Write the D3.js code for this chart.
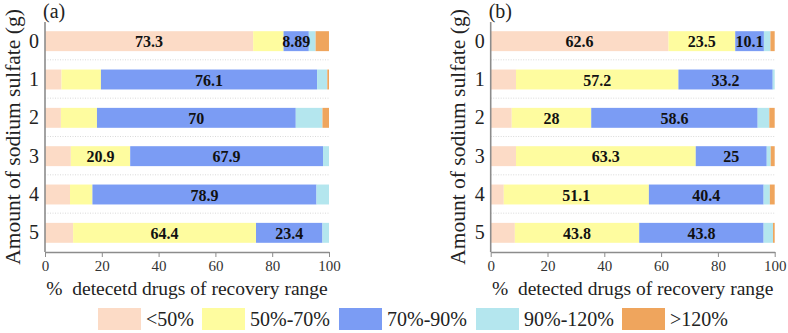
<!DOCTYPE html>
<head>
    <meta charset="utf-8">
    <script src="https://d3js.org/d3.v7.min.js"></script>
    <style>
        body { margin: 0; background: #fff; }
    </style>
</head>

<body>
    <div id="chart"></div>
</body>

<script>
    // categories
    const amounts = ["0", "1", "2", "3", "4", "5"];
    const ranges = ["<50%", "50%-70%", "70%-90%", "90%-120%", ">120%"];
    const colors = ["#fcdbc6", "#fefc9f", "#7b9cf4", "#b4e6ee", "#efa55d"];
    const xTicks = [0, 20, 40, 60, 80, 100];

    // panel (a) values, one array per recovery range
    const aLow    = [73.3, 5.8, 5.6, 9.1, 8.8, 9.9];
    const aMid    = [10.7, 13.9, 12.7, 20.9, 7.9, 64.4];
    const aGood   = [8.89, 76.1, 70, 67.9, 78.9, 23.4];
    const aHigh   = [2.4, 3.6, 9.4, 2.1, 4.4, 2.3];
    const aOver   = [4.7, 0.6, 2.3, 0, 0, 0];

    // panel (b) values
    const bLow    = [62.6, 8.9, 7.4, 8.9, 4.6, 8.5];
    const bMid    = [23.5, 57.2, 28, 63.3, 51.1, 43.8];
    const bGood   = [10.1, 33.2, 58.6, 25, 40.4, 43.8];
    const bHigh   = [2.3, 0.7, 4.1, 1.4, 2.2, 3.3];
    const bOver   = [1.5, 0, 1.9, 1.4, 1.7, 0.6];

    // which segments carry a value label: [rowIndex, rangeIndex]
    const aLabelled = [[0,0],[0,2],[1,2],[2,2],[3,1],[3,2],[4,2],[5,1],[5,2]];
    const bLabelled = [[0,0],[0,1],[0,2],[1,1],[1,2],[2,1],[2,2],[3,1],[3,2],[4,1],[4,2],[5,1],[5,2]];

    const W = 788, H = 333;
    const font = "'Liberation Serif', 'Times New Roman', 'DejaVu Serif', serif";

    const svg = d3.select("#chart").append("svg")
        .attr("width", W).attr("height", H)
        .style("font-family", font);

    function panel(opts) {
        const table = amounts.map((a, i) => {
            const row = {amount: a};
            ranges.forEach((r, j) => row[r] = opts.series[j][i]);
            return row;
        });
        const stacked = d3.stack().keys(ranges)(table);

        const x = d3.scaleLinear().domain([0, 100]).range([opts.x0, opts.x1]);
        const y = d3.scaleBand().domain(amounts).range([22, 252]).paddingInner(0.48).paddingOuter(0.24);

        const g = svg.append("g");

        // dotted separators between rows
        const step = y.step();
        g.selectAll(".sep")
            .data(amounts.slice(1))
            .join("line")
            .attr("x1", x(0)).attr("x2", x(100))
            .attr("y1", d => y(d) - step * 0.24 - 0.5)
            .attr("y2", d => y(d) - step * 0.24 - 0.5)
            .attr("stroke", "#d9d9d9")
            .attr("stroke-dasharray", "1,1.5");

        // bars
        g.selectAll(".layer")
            .data(stacked)
            .join("g")
            .attr("fill", (d, i) => colors[i])
            .selectAll("rect")
            .data(d => d)
            .join("rect")
            .attr("x", d => x(d[0]))
            .attr("width", d => Math.max(0, x(d[1]) - x(d[0])))
            .attr("y", d => y(d.data.amount))
            .attr("height", y.bandwidth());

        // value labels
        g.selectAll(".val")
            .data(opts.labelled)
            .join("text")
            .attr("x", d => { const s = stacked[d[1]][d[0]]; return (x(s[0]) + x(s[1])) / 2; })
            .attr("y", d => y(amounts[d[0]]) + y.bandwidth() / 2 + 6)
            .attr("text-anchor", "middle")
            .style("font-family", font)
            .attr("font-size", 16)
            .attr("font-weight", "bold")
            .attr("fill", "#111")
            .text(d => opts.series[d[1]][d[0]]);

        // y axis
        const ya = g.append("g")
            .attr("transform", `translate(${x(0)},0)`)
            .call(d3.axisLeft(y).tickSize(0).tickPadding(6));
        ya.attr("font-family", null);
        ya.select(".domain").attr("stroke", "#8c8c8c").attr("stroke-width", 1.6)
            .attr("d", `M0,22V252`);
        ya.selectAll("text").style("font-family", font).attr("font-size", 20).attr("fill", "#222");

        // x axis
        const xa = g.append("g")
            .attr("transform", `translate(0,252)`)
            .call(d3.axisBottom(x).tickValues(xTicks).tickSize(5).tickSizeOuter(0).tickPadding(3));
        xa.attr("font-family", null);
        xa.select(".domain").attr("stroke", "#8c8c8c").attr("stroke-width", 1.4);
        xa.selectAll("line").attr("stroke", "#8c8c8c");
        xa.selectAll("text").style("font-family", font).attr("font-size", 15).attr("fill", "#333");

        // titles
        g.append("text")
            .attr("transform", `translate(${opts.yTitleX},137) rotate(-90)`)
            .attr("text-anchor", "middle")
            .attr("dominant-baseline", "central")
            .style("font-family", font)
            .attr("font-size", 21.5)
            .attr("fill", "#222")
            .text("Amount of sodium sulfate (g)");

        g.append("text")
            .attr("x", (x(0) + x(100)) / 2)
            .attr("y", 295)
            .attr("text-anchor", "middle")
            .style("font-family", font)
            .attr("font-size", 19.5)
            .attr("fill", "#222")
            .style("white-space", "pre")
            .text(opts.xTitle);

        g.append("text")
            .attr("x", x(0) - 2)
            .attr("y", 18)
            .style("font-family", font)
            .attr("font-size", 20)
            .attr("fill", "#222")
            .text(opts.tag);
    }

    panel({
        x0: 45, x1: 329, yTitleX: 13,
        series: [aLow, aMid, aGood, aHigh, aOver],
        labelled: aLabelled,
        xTitle: "%  detecetd drugs of recovery range",
        tag: "(a)"
    });

    panel({
        x0: 490.7, x1: 774.7, yTitleX: 458,
        series: [bLow, bMid, bGood, bHigh, bOver],
        labelled: bLabelled,
        xTitle: "%  detected drugs of recovery range",
        tag: "(b)"
    });

    // legend
    const legendX = [98, 202, 339, 476, 622];
    const leg = svg.append("g").selectAll("g")
        .data(ranges)
        .join("g")
        .attr("transform", (d, i) => `translate(${legendX[i]},308)`);
    leg.append("rect")
        .attr("width", 43).attr("height", 22)
        .attr("fill", (d, i) => colors[i]);
    leg.append("text")
        .attr("x", 48).attr("y", 18)
        .style("font-family", font)
        .attr("font-size", 20)
        .attr("fill", "#222")
        .text(d => d);
</script>
</html>
